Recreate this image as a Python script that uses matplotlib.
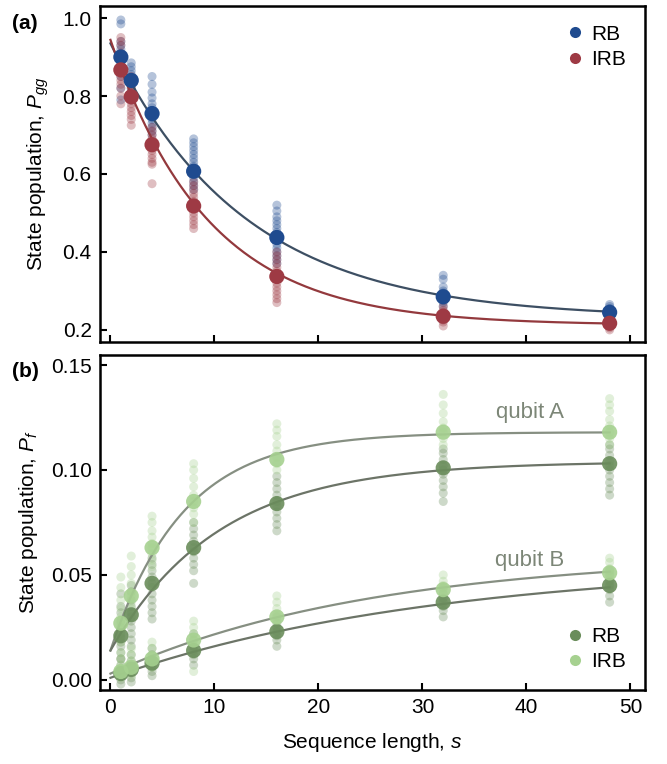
import numpy as np
import matplotlib
matplotlib.use("Agg")
import matplotlib.pyplot as plt
from matplotlib.lines import Line2D

plt.rcParams['font.family'] = ['Liberation Sans', 'DejaVu Sans']
plt.rcParams['mathtext.fontset'] = 'custom'
plt.rcParams['mathtext.it'] = 'Liberation Sans:italic'
plt.rcParams['mathtext.rm'] = 'Liberation Sans'

# ---------------- data ----------------
seq_len = [1, 2, 4, 8, 16, 32, 48]

# panel (a): P_gg
rb_mean = [0.900, 0.840, 0.755, 0.607, 0.437, 0.285, 0.245]
irb_mean = [0.867, 0.798, 0.675, 0.518, 0.337, 0.235, 0.217]
rb_runs = [
    [0.995, 0.985, 0.94, 0.93, 0.92, 0.91, 0.90, 0.895, 0.89, 0.88, 0.87, 0.86, 0.85, 0.82, 0.79],
    [0.885, 0.875, 0.865, 0.855, 0.845, 0.84, 0.835, 0.83, 0.82, 0.81, 0.80, 0.79],
    [0.85, 0.83, 0.81, 0.795, 0.78, 0.77, 0.76, 0.75, 0.745, 0.74, 0.73, 0.72, 0.71, 0.70],
    [0.69, 0.68, 0.67, 0.66, 0.65, 0.64, 0.63, 0.62, 0.61, 0.60, 0.59, 0.58, 0.57, 0.56],
    [0.52, 0.505, 0.49, 0.48, 0.47, 0.46, 0.45, 0.44, 0.43, 0.42, 0.41, 0.40, 0.39, 0.38, 0.37],
    [0.34, 0.33, 0.31, 0.30, 0.295, 0.29, 0.285, 0.28, 0.275, 0.27, 0.26],
    [0.265, 0.26, 0.255, 0.25, 0.245, 0.24, 0.235, 0.23],
]
irb_runs = [
    [0.95, 0.94, 0.93, 0.91, 0.89, 0.88, 0.87, 0.86, 0.85, 0.84, 0.83, 0.82, 0.80, 0.78],
    [0.85, 0.84, 0.83, 0.82, 0.81, 0.80, 0.79, 0.78, 0.77, 0.76, 0.75, 0.74, 0.725],
    [0.72, 0.71, 0.70, 0.69, 0.68, 0.675, 0.67, 0.66, 0.65, 0.64, 0.63, 0.625, 0.575],
    [0.58, 0.57, 0.56, 0.55, 0.54, 0.53, 0.52, 0.51, 0.50, 0.49, 0.48, 0.47, 0.46],
    [0.40, 0.39, 0.38, 0.37, 0.36, 0.35, 0.34, 0.33, 0.32, 0.31, 0.30, 0.29, 0.28, 0.27],
    [0.26, 0.25, 0.245, 0.24, 0.235, 0.23, 0.225, 0.22, 0.21],
    [0.23, 0.225, 0.22, 0.215, 0.21, 0.205, 0.20],
]
# fit parameters: A * p**s + B
rb_fit = (0.705, 0.925, 0.230)
irb_fit = (0.732, 0.899, 0.212)

# panel (b): P_f
qa_rb_mean = [0.021, 0.031, 0.046, 0.063, 0.084, 0.101, 0.103]
qa_irb_mean = [0.027, 0.040, 0.063, 0.085, 0.105, 0.118, 0.118]
qb_rb_mean = [0.003, 0.005, 0.008, 0.014, 0.023, 0.037, 0.045]
qb_irb_mean = [0.004, 0.006, 0.010, 0.019, 0.030, 0.043, 0.051]
qa_rb_runs = [
    [0.041, 0.035, 0.032, 0.028, 0.025, 0.022, 0.020, 0.018, 0.016, 0.013, 0.010],
    [0.045, 0.042, 0.038, 0.035, 0.032, 0.030, 0.028, 0.025, 0.022, 0.019, 0.016],
    [0.058, 0.055, 0.052, 0.049, 0.046, 0.044, 0.041, 0.038, 0.035, 0.032, 0.029],
    [0.075, 0.072, 0.069, 0.066, 0.063, 0.061, 0.058, 0.055, 0.052, 0.046],
    [0.097, 0.094, 0.091, 0.088, 0.085, 0.083, 0.080, 0.077, 0.074, 0.071],
    [0.110, 0.108, 0.105, 0.102, 0.100, 0.098, 0.095, 0.092, 0.089, 0.085],
    [0.112, 0.110, 0.107, 0.104, 0.102, 0.100, 0.097, 0.094, 0.091, 0.088],
]
qa_irb_runs = [
    [0.049, 0.044, 0.038, 0.034, 0.030, 0.027, 0.024, 0.021, 0.018],
    [0.059, 0.054, 0.050, 0.046, 0.042, 0.040, 0.037, 0.034],
    [0.078, 0.075, 0.071, 0.068, 0.065, 0.063, 0.060, 0.057, 0.054],
    [0.103, 0.100, 0.096, 0.092, 0.088, 0.085, 0.082, 0.079, 0.075],
    [0.122, 0.119, 0.116, 0.112, 0.109, 0.106, 0.103, 0.100],
    [0.136, 0.131, 0.127, 0.123, 0.120, 0.118, 0.115, 0.112],
    [0.134, 0.131, 0.128, 0.124, 0.121, 0.118, 0.115, 0.112],
]
qb_rb_runs = [
    [0.010, 0.007, 0.005, 0.003, 0.002, 0.000, -0.002],
    [0.012, 0.009, 0.007, 0.005, 0.003, 0.001, -0.001],
    [0.015, 0.012, 0.010, 0.008, 0.006, 0.004, 0.002],
    [0.022, 0.019, 0.016, 0.014, 0.012, 0.010, 0.007],
    [0.030, 0.027, 0.025, 0.023, 0.021, 0.019, 0.016],
    [0.044, 0.041, 0.039, 0.037, 0.035, 0.033, 0.030],
    [0.052, 0.050, 0.047, 0.045, 0.043, 0.040, 0.037],
]
qb_irb_runs = [
    [0.013, 0.010, 0.007, 0.005, 0.003, 0.001],
    [0.015, 0.012, 0.009, 0.006, 0.004, 0.002],
    [0.018, 0.015, 0.012, 0.010, 0.008, 0.006],
    [0.028, 0.025, 0.022, 0.019, 0.016, 0.004],
    [0.040, 0.037, 0.034, 0.031, 0.028],
    [0.050, 0.047, 0.045, 0.043, 0.041],
    [0.058, 0.056, 0.053, 0.051, 0.048, 0.045],
]
# fit parameters: C - A * p**s
qa_rb_fit = (0.090, 0.908, 0.104)
qa_irb_fit = (0.104, 0.866, 0.118)
qb_rb_fit = (0.055, 0.9686, 0.056)
qb_irb_fit = (0.057, 0.961, 0.060)

x_ticks = [0, 10, 20, 30, 40, 50]

# ---------------- style ----------------
c_rb = '#1f4b8f'
c_irb = '#9e3a44'
c_rb_line = '#3d4f63'
c_irb_line = '#93393d'
c_g_dark = '#6a8d5b'
c_g_light = '#a6d190'
c_gline_dark = '#6c7467'
c_gline_light = '#868f82'
c_qtext = '#7c8677'

FS = 15

fig = plt.figure(figsize=(6.67, 7.64), dpi=100)
ax1 = fig.add_axes([0.150, 0.5524, 0.817, 0.4398])
ax2 = fig.add_axes([0.150, 0.0969, 0.817, 0.4385])

s_fine = np.linspace(0, 48, 300)


def scatter_runs(ax, runs, color, alpha=0.33, size=42):
    for s, vals in zip(seq_len, runs):
        ax.scatter([s] * len(vals), vals, s=size, color=color, alpha=alpha,
                   edgecolors='none', zorder=2)


def style_axes(ax):
    for sp in ax.spines.values():
        sp.set_linewidth(1.8)
    ax.tick_params(direction='in', length=5, width=1.5, labelsize=FS,
                   top=False, right=False, pad=6)
    ax.set_xlim(-1.0, 51.4)
    ax.set_xticks(x_ticks)


# panel (a)
scatter_runs(ax1, rb_runs, c_rb)
scatter_runs(ax1, irb_runs, c_irb)
A, p, B = rb_fit
ax1.plot(s_fine, A * p ** s_fine + B, color=c_rb_line, lw=1.6, zorder=3)
A, p, B = irb_fit
ax1.plot(s_fine, A * p ** s_fine + B, color=c_irb_line, lw=1.6, zorder=3)
ax1.scatter(seq_len, rb_mean, s=120, color=c_rb, edgecolors='none', zorder=4)
ax1.scatter(seq_len, irb_mean, s=120, color=c_irb, edgecolors='none', zorder=4)
style_axes(ax1)
ax1.set_ylim(0.169, 1.031)
ax1.set_yticks([0.2, 0.4, 0.6, 0.8, 1.0])
ax1.set_yticklabels(['0.2', '0.4', '0.6', '0.8', '1.0'])
ax1.set_xticklabels([])
ax1.set_ylabel('State population, $P_{gg}$', fontsize=FS, labelpad=8)
h1 = [Line2D([], [], ls='none', marker='o', ms=8, color=c_rb, mec='none'),
      Line2D([], [], ls='none', marker='o', ms=8, color=c_irb, mec='none')]
ax1.legend(h1, ['RB', 'IRB'], loc='upper right', frameon=False, fontsize=FS,
           handletextpad=0.2, labelspacing=0.3, borderaxespad=0.5,
           handlelength=1.2)
fig.text(0.018, 0.962, '(a)', fontsize=15, fontweight='bold')

# panel (b)
scatter_runs(ax2, qa_rb_runs, c_g_dark)
scatter_runs(ax2, qb_rb_runs, c_g_dark)
scatter_runs(ax2, qa_irb_runs, c_g_light)
scatter_runs(ax2, qb_irb_runs, c_g_light)
for fit, col in [(qa_irb_fit, c_gline_light), (qa_rb_fit, c_gline_dark),
                 (qb_irb_fit, c_gline_light), (qb_rb_fit, c_gline_dark)]:
    A, p, C = fit
    ax2.plot(s_fine, C - A * p ** s_fine, color=col, lw=1.6, zorder=3)
ax2.scatter(seq_len, qa_rb_mean, s=120, color=c_g_dark, edgecolors='none', alpha=0.9, zorder=4)
ax2.scatter(seq_len, qb_rb_mean, s=120, color=c_g_dark, edgecolors='none', alpha=0.9, zorder=4)
ax2.scatter(seq_len, qa_irb_mean, s=120, color=c_g_light, edgecolors='none', alpha=0.9, zorder=4)
ax2.scatter(seq_len, qb_irb_mean, s=120, color=c_g_light, edgecolors='none', alpha=0.9, zorder=4)
style_axes(ax2)
ax2.set_ylim(-0.0048, 0.1548)
ax2.set_yticks([0.0, 0.05, 0.10, 0.15])
ax2.set_yticklabels(['0.00', '0.05', '0.10', '0.15'])
ax2.set_ylabel('State population, $P_f$', fontsize=FS, labelpad=8)
ax2.set_xlabel('Sequence length, $s$', fontsize=FS, labelpad=10)
ax2.text(40.3, 0.1276, 'qubit A', fontsize=16, color=c_qtext, ha='center', va='center')
ax2.text(40.3, 0.0571, 'qubit B', fontsize=16, color=c_qtext, ha='center', va='center')
h2 = [Line2D([], [], ls='none', marker='o', ms=8, color=c_g_dark, mec='none'),
      Line2D([], [], ls='none', marker='o', ms=8, color=c_g_light, mec='none')]
ax2.legend(h2, ['RB', 'IRB'], loc='lower right', frameon=False, fontsize=FS,
           handletextpad=0.2, labelspacing=0.3, borderaxespad=0.5,
           handlelength=1.2)
fig.text(0.018, 0.507, '(b)', fontsize=15, fontweight='bold')

fig.savefig('out.png', dpi=100)
